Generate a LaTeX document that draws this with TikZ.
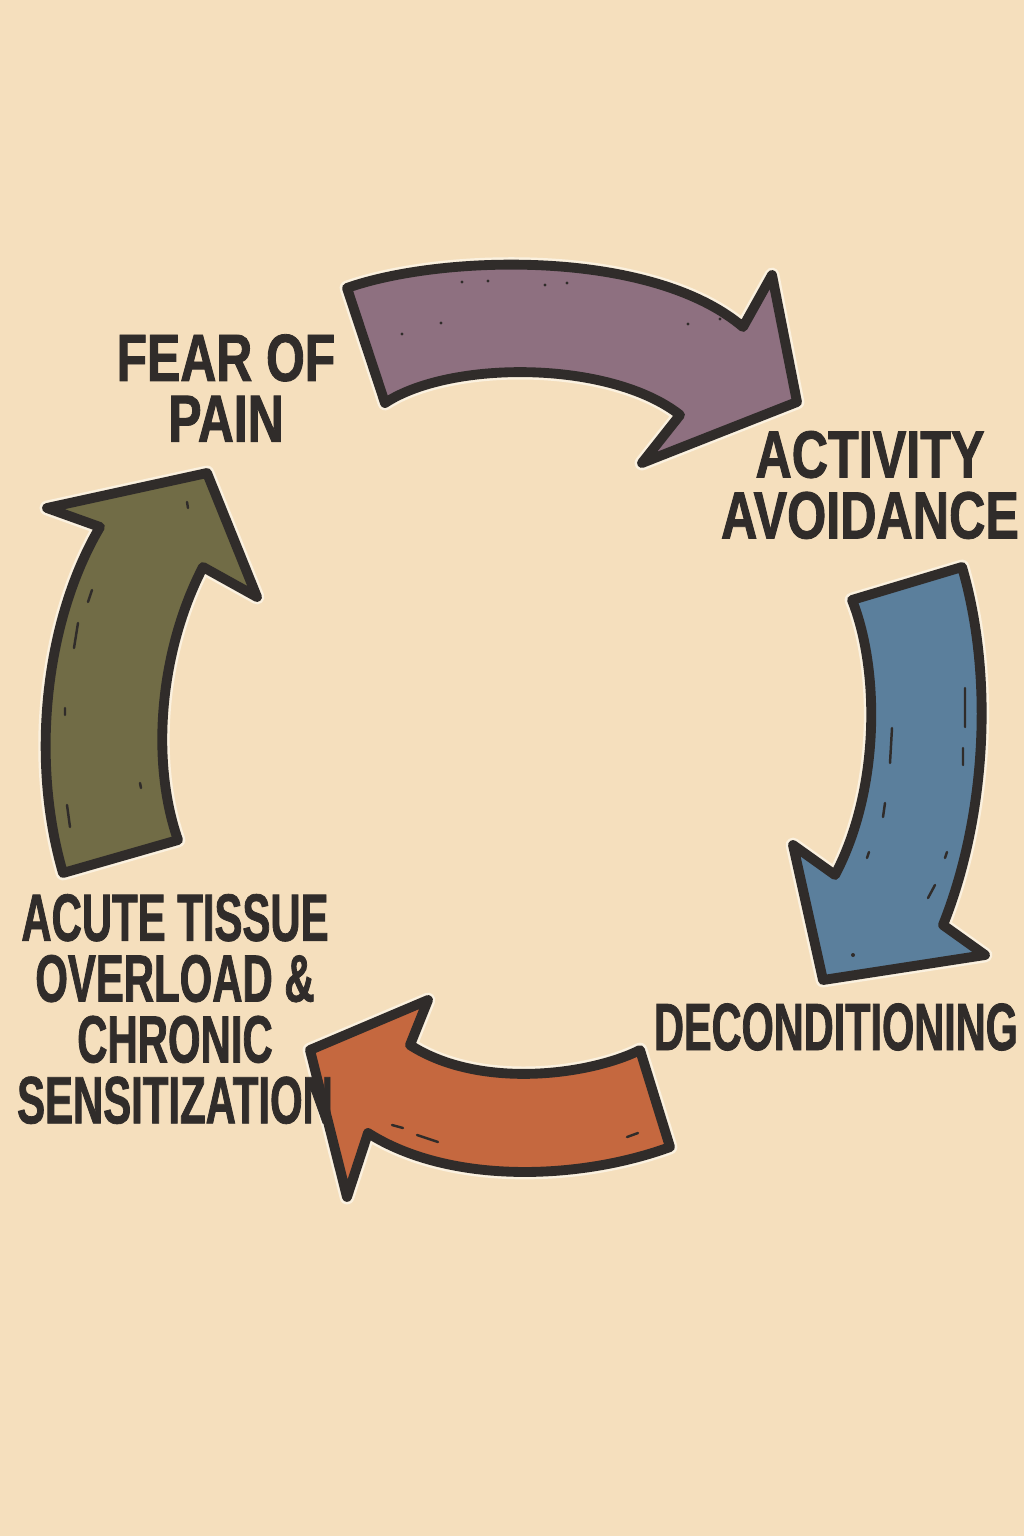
\documentclass[tikz,border=0pt]{standalone}
\usepackage{fontspec}
\usepackage{xcolor}
\usepackage{tikz}
\newfontfamily\lblfont[FakeStretch=0.66,FakeBold=1.2]{Liberation Sans}
\definecolor{paper}{HTML}{F5DFBD}
\definecolor{halo}{HTML}{FBF1DF}
\definecolor{ink}{HTML}{302C2A}
\definecolor{plum}{HTML}{8E7080}
\definecolor{steel}{HTML}{5B7F9C}
\definecolor{rust}{HTML}{C5683F}
\definecolor{olive}{HTML}{716C46}

\begin{document}
\begin{tikzpicture}[x=0.01cm,y=-0.01cm]
    \tikzstyle{bendarrow}=[draw=ink,line width=2.8pt,line join=round,preaction={draw=halo,line width=4.2pt,line join=round}]
    \tikzstyle{scratch}=[draw=ink,line width=0.7pt,line cap=round]
    \tikzstyle{lbl}=[text=ink,align=center,font=\lblfont\bfseries\fontsize{19}{17.3}\selectfont,transform shape]

    \useasboundingbox (0,0) rectangle (1024,1536);
    \fill[paper] (0,0) rectangle (1024,1536);

    \path[bendarrow,fill=plum] (347,288) .. controls (440,255) and (650,248) .. (743,327)
        -- (772,275) -- (797,402) -- (642,463) -- (680,415)
        .. controls (610,360) and (450,360) .. (385,403) -- cycle;
    \path[bendarrow,fill=steel] (852,600) .. controls (880,670) and (880,790) .. (835,875)
        -- (793,845) -- (823,980) -- (985,955) -- (943,925)
        .. controls (985,820) and (995,680) .. (962,567) -- cycle;
    \path[bendarrow,fill=rust] (640,1050) .. controls (590,1075) and (480,1090) .. (410,1045)
        -- (428,1000) -- (310,1050) -- (347,1197) -- (368,1133)
        .. controls (450,1185) and (580,1180) .. (670,1147) -- cycle;
    \path[bendarrow,fill=olive] (178,840) .. controls (150,760) and (160,650) .. (203,567)
        -- (257,597) -- (207,473) -- (47,508) -- (100,527)
        .. controls (45,620) and (30,760) .. (63,873) -- cycle;

    \foreach \x/\y in {462/282,488/281,545/285,567/283,402/334,441/323,688/324,720/319} {
        \fill[ink] (\x,\y) circle (1.6);
    }
    \draw[scratch] (965,688) -- (965,727) (892,728) -- (890,763) (963,748) -- (963,765)
        (885,803) -- (883,817) (869,852) -- (867,858) (947,852) -- (945,858) (935,885) -- (928,898);
    \fill[ink] (853,955) circle (2);
    \draw[scratch] (92,590) -- (88,602) (78,623) -- (74,648) (65,708) -- (65,715)
        (67,805) -- (70,827) (187,502) -- (188,508) (140,783) -- (141,788);
    \draw[scratch] (392,1125) -- (403,1128) (417,1135) -- (438,1142) (627,1137) -- (638,1133);

    \node[lbl,xscale=1.13] (fear) at (226,388) {FEAR OF\\PAIN};
    \node[lbl,xscale=1.14] (avoid) at (870,485) {ACTIVITY\\AVOIDANCE};
    \node[lbl,xscale=0.94] (decond) at (836,1027) {DECONDITIONING};
    \node[lbl,xscale=0.95] (tissue) at (175,1009) {ACUTE TISSUE\\OVERLOAD \&\\CHRONIC\\SENSITIZATION};
\end{tikzpicture}
\end{document}
